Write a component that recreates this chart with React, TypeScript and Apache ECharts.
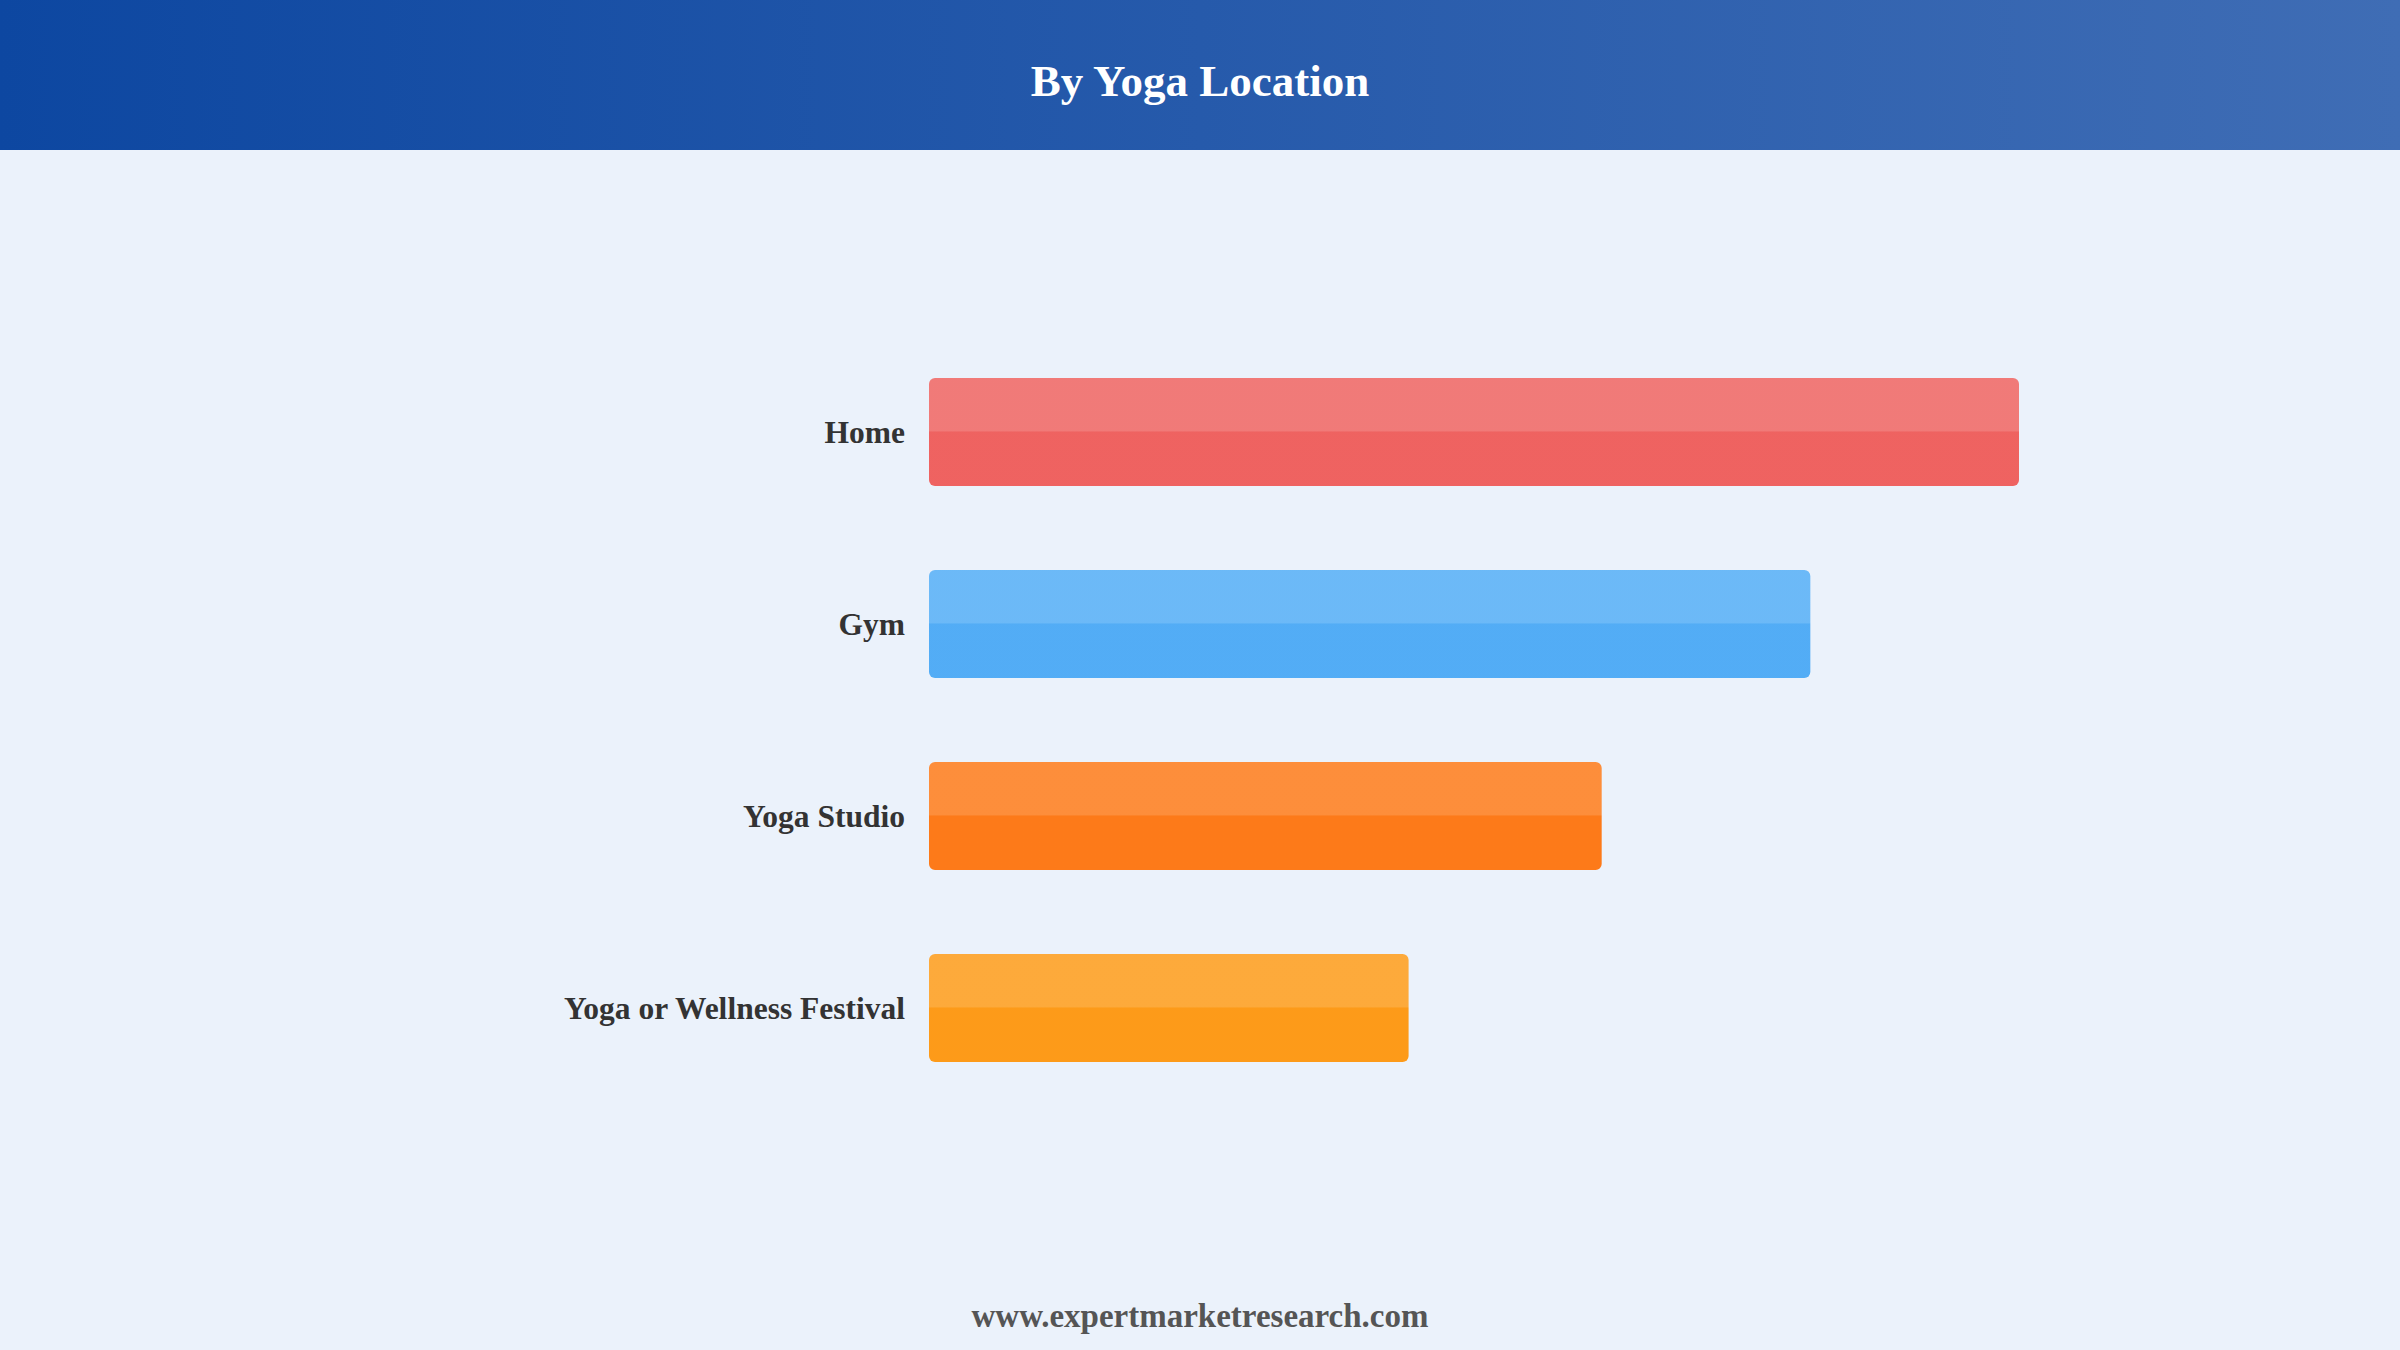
import React, { useEffect, useRef } from 'react';
import * as echarts from 'echarts';

const categories = ['Home', 'Gym', 'Yoga Studio', 'Yoga or Wellness Festival'];
const values = [35, 28.3, 21.6, 15.4];
const barColors = ['#EF5350', '#42A5F5', '#FF6D00', '#FF9100'];

const SERIF = '"Liberation Serif", "Times New Roman", Times, serif';

// mix a hex colour with white
const lighten = (hex: string, amt: number) => {
  const n = parseInt(hex.slice(1), 16);
  const ch = [(n >> 16) & 255, (n >> 8) & 255, n & 255].map(c => Math.round(c + (255 - c) * amt));
  return `rgb(${ch.join(',')})`;
};

const App: React.FC = () => {
  const chartRef = useRef<HTMLDivElement>(null);

  useEffect(() => {
    if (!chartRef.current) return;
    const chart = echarts.init(chartRef.current, null, { renderer: 'svg' });

    const options: echarts.EChartsOption = {
      animation: false,
      backgroundColor: '#EBF2FB',
      graphic: [
        {
          type: 'rect',
          left: 0,
          top: 0,
          shape: { width: 2400, height: 150 },
          style: {
            fill: new echarts.graphic.LinearGradient(0, 0, 1, 0, [
              { offset: 0, color: '#0D47A1' },
              { offset: 1, color: '#3F6DB5' }
            ])
          },
          z: 0
        },
        {
          type: 'text',
          x: 1200,
          y: 81,
          style: {
            text: 'By Yoga Location',
            fill: '#FFFFFF',
            font: `bold 45px ${SERIF}`,
            textAlign: 'center',
            textVerticalAlign: 'middle'
          },
          z: 1
        },
        {
          type: 'text',
          x: 1200,
          y: 1316,
          style: {
            text: 'www.expertmarketresearch.com',
            fill: '#555555',
            font: `bold 33px ${SERIF}`,
            textAlign: 'center',
            textVerticalAlign: 'middle'
          }
        }
      ],
      grid: {
        left: 929,
        right: 381,
        top: 336,
        bottom: 246,
        containLabel: false
      },
      xAxis: {
        type: 'value',
        min: 0,
        max: 35,
        show: false,
        splitLine: { show: false }
      },
      yAxis: {
        type: 'category',
        data: categories,
        inverse: true,
        axisLine: { show: false },
        axisTick: { show: false },
        axisLabel: {
          margin: 24,
          color: '#333333',
          fontFamily: SERIF,
          fontWeight: 'bold',
          fontSize: 31.5
        }
      },
      series: [
        {
          type: 'bar',
          barWidth: 108,
          data: values.map((v, i) => ({
            value: v,
            itemStyle: {
              opacity: 0.9,
              borderRadius: 6,
              color: new echarts.graphic.LinearGradient(0, 0, 0, 1, [
                { offset: 0, color: lighten(barColors[i], 0.15) },
                { offset: 0.49, color: lighten(barColors[i], 0.15) },
                { offset: 0.5, color: barColors[i] },
                { offset: 1, color: barColors[i] }
              ])
            }
          }))
        }
      ]
    };

    chart.setOption(options);
    return () => {
      chart.dispose();
    };
  }, []);

  return (
    <div
      ref={chartRef}
      style={{ position: 'fixed', left: 0, top: 0, width: 2400, height: 1350 }}
    />
  );
};

export default App;
